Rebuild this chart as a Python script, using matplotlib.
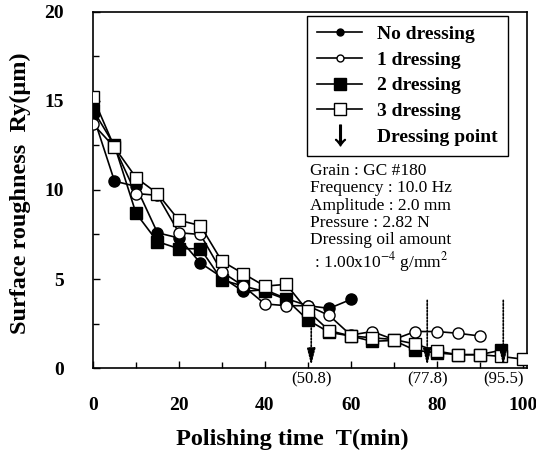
import numpy as np
import matplotlib
matplotlib.use("Agg")
import matplotlib.pyplot as plt
from matplotlib.lines import Line2D
from matplotlib.ticker import MultipleLocator

plt.rcParams['font.family'] = ['Liberation Serif', 'DejaVu Serif']
plt.rcParams['mathtext.fontset'] = 'stix'

# Polishing time (min) for each series
t_none = [0, 5, 10, 15, 20, 25, 30, 35, 40, 45, 50, 55, 60]
t_one = [0, 5, 10, 15, 20, 25, 30, 35, 40, 45, 50, 55, 60, 65, 70, 75, 80, 85, 90]
t_two = [0, 5, 10, 15, 20, 25, 30, 35, 40, 45, 50, 55, 60, 65, 70, 75, 80, 85, 90, 95]
t_three = [0, 5, 10, 15, 20, 25, 30, 35, 40, 45, 50, 55, 60, 65, 70, 75, 80, 85, 90, 95, 100]

# Surface roughness Ry (um)
ry_none = [14.2, 10.5, 10.2, 7.6, 7.3, 5.9, 5.1, 4.3, 4.4, 3.9, 3.5, 3.35, 3.85]
ry_one = [13.7, 12.4, 9.8, 9.7, 7.6, 7.5, 5.4, 4.6, 3.6, 3.5, 3.5, 2.95, 1.85,
          2.05, 1.6, 2.05, 2.05, 1.95, 1.8]
ry_two = [14.5, 12.5, 8.7, 7.1, 6.7, 6.7, 4.95, 4.6, 4.3, 3.85, 2.7, 2.0, 1.8,
          1.5, 1.55, 1.0, 0.85, 0.75, 0.75, 1.0]
ry_three = [15.2, 12.4, 10.7, 9.8, 8.3, 8.0, 6.0, 5.3, 4.6, 4.7, 3.2, 2.1, 1.8,
            1.7, 1.6, 1.35, 0.95, 0.75, 0.75, 0.65, 0.5]

# dressing points: time and Ry where the arrow starts
dress_t = [50.8, 77.8, 95.5]
dress_top = [2.8, 3.8, 3.8]
dress_labels = ["(50.8)", "(77.8)", "(95.5)"]

conditions = ["Grain : GC #180", "Frequency : 10.0 Hz", "Amplitude : 2.0 mm",
              "Pressure : 2.82 N", "Dressing oil amount",
              r" : 1.00x10$^{-4}$ g/mm$^{2}$"]

fig = plt.figure(figsize=(5.36, 4.53), dpi=100)
ax = fig.add_axes([0.1735, 0.1876, 0.8095, 0.786])

kw = dict(color="black", lw=1.2, ms=8, mew=1.0, mec="black")
ax.plot(t_none, ry_none, marker="o", mfc="black", zorder=3, **kw)
ax.plot(t_one, ry_one, marker="o", mfc="white", zorder=4, **kw)
ax.plot(t_two, ry_two, marker="s", mfc="black", zorder=3, **kw)
ax.plot(t_three, ry_three, marker="s", mfc="white", zorder=4, **kw)

for t, top, lab in zip(dress_t, dress_top, dress_labels):
    ax.annotate("", xy=(t, 0.15), xytext=(t, top),
                arrowprops=dict(arrowstyle="-|>,head_length=1.0,head_width=0.25",
                                color="black", lw=1.2, ls=(0, (1, 1)),
                                shrinkA=0, shrinkB=0), zorder=5)
    ax.text(t, -0.2, lab, ha="center", va="top", fontsize=12)

ax.set_xlim(0, 101)
ax.set_ylim(0, 20)
ax.xaxis.set_major_locator(MultipleLocator(20))
ax.xaxis.set_minor_locator(MultipleLocator(10))
ax.yaxis.set_major_locator(MultipleLocator(5))
ax.yaxis.set_minor_locator(MultipleLocator(2.5))
ax.tick_params(which="both", direction="in", labelsize=14, width=1)
ax.tick_params(which="major", length=5)
ax.tick_params(which="minor", length=4)
ax.tick_params(axis="x", pad=21)
ax.tick_params(axis="y", pad=21)
for lab in ax.get_xticklabels() + ax.get_yticklabels():
    lab.set_fontweight("bold")
for s in ax.spines.values():
    s.set_linewidth(1.2)

ax.set_xlabel("Polishing time  T(min)", fontsize=17.5, fontweight="bold")
ax.xaxis.set_label_coords(0.46, -0.172)
ax.set_ylabel("Surface roughness  Ry(\u03bcm)", fontsize=17.5, fontweight="bold")
ax.yaxis.set_label_coords(-0.143, 0.49)

handles = [
    Line2D([], [], color="black", lw=1.2, marker="o", ms=5, mfc="black", mec="black"),
    Line2D([], [], color="black", lw=1.2, marker="o", ms=5, mfc="white", mec="black"),
    Line2D([], [], color="black", lw=1.2, marker="s", ms=8, mfc="black", mec="black"),
    Line2D([], [], color="black", lw=1.2, marker="s", ms=8, mfc="white", mec="black"),
    Line2D([], [], color="black", lw=0, marker=r"$\downarrow$", ms=15),
]
labels = ["No dressing", "1 dressing", "2 dressing", "3 dressing", "Dressing point"]
leg = ax.legend(handles, labels, loc="upper right", bbox_to_anchor=(0.956, 0.99),
                frameon=True, fancybox=False, edgecolor="black", framealpha=1,
                prop=dict(family="Liberation Serif", weight="bold", size=14),
                handlelength=2.3, labelspacing=0.42, borderpad=0.5, handletextpad=0.8,
                borderaxespad=0)
leg.get_frame().set_linewidth(1.0)

ax.text(0.5, 0.575, "\n".join(conditions), transform=ax.transAxes,
        ha="left", va="top", fontsize=12.5, linespacing=1.1)

fig.savefig("out.png", dpi=100)
